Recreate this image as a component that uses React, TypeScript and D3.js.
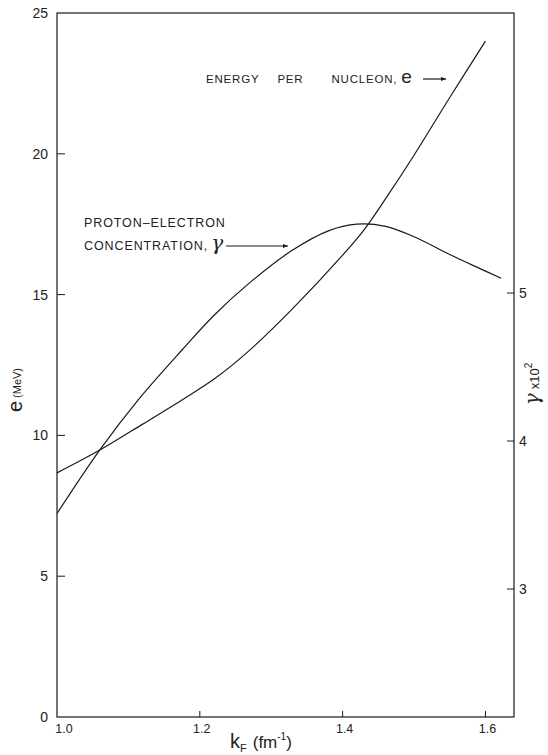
import React from "react";
import * as d3 from "d3";

const energyK = [1.0, 1.06, 1.12, 1.175, 1.22, 1.27, 1.33, 1.4, 1.43, 1.46, 1.5, 1.55, 1.6];
const energyE = [8.67, 9.48, 10.4, 11.26, 12.0, 13.03, 14.5, 16.4, 17.3, 18.4, 19.95, 22.0, 24.0];

const gammaK = [1.0, 1.06, 1.114, 1.175, 1.22, 1.27, 1.33, 1.38, 1.42, 1.46, 1.5, 1.55, 1.59, 1.622];
const gammaV = [3.51, 3.94, 4.28, 4.615, 4.85, 5.07, 5.29, 5.42, 5.465, 5.45, 5.38, 5.26, 5.17, 5.1];

const xTicks = [1.2, 1.4, 1.6];
const xTickLabels = ["1.2", "1.4", "1.6"];
const leftTicks = [0, 5, 10, 15, 20, 25];
const rightTicks = [3, 4, 5];

const W = 548;
const H = 755;
const L = 57, R = 514, T = 13, B = 717;
const FONT = "'Liberation Sans', Arial, Helvetica, sans-serif";

export default function App() {
  const x = d3.scaleLinear().domain([1.0, 1.64]).range([L, R]);
  const yL = d3.scaleLinear().domain([0, 25]).range([B, T]);
  const yR = d3.scaleLinear().domain([3, 5]).range([589, 293]);

  const eLine = d3
    .line<number>()
    .x((_, i) => x(energyK[i]))
    .y((d) => yL(d))
    .curve(d3.curveCatmullRom.alpha(0.5));
  const gLine = d3
    .line<number>()
    .x((_, i) => x(gammaK[i]))
    .y((d) => yR(d))
    .curve(d3.curveCatmullRom.alpha(0.5));

  const stroke = "#1a1a1a";

  return (
    <svg
      width={W}
      height={H}
      style={{ position: "absolute", left: 0, top: 0, background: "#fff" }}
      fontFamily={FONT}
    >
      <defs>
        <marker id="ah" viewBox="0 0 10 10" refX="10" refY="5" markerWidth="8" markerHeight="5" orient="auto" markerUnits="userSpaceOnUse">
          <path d="M0,1 L10,5 L0,9 Z" fill={stroke} />
        </marker>
      </defs>
      {/* frame */}
      <rect x={L} y={T} width={R - L} height={B - T} fill="none" stroke={stroke} strokeWidth={1.2} />

      {/* bottom ticks */}
      {xTicks.map((t, i) => (
        <g key={"xt" + i}>
          <line x1={x(t)} x2={x(t)} y1={B} y2={B - 6} stroke={stroke} strokeWidth={1} />
          <text x={x(t) + 2} y={733} fontSize={12.5} textAnchor="middle" fill="#222">
            {xTickLabels[i]}
          </text>
        </g>
      ))}
      <text x={x(1.0) + 7} y={733} fontSize={12.5} textAnchor="middle" fill="#222">1.0</text>

      {/* left ticks */}
      {leftTicks.map((t) => (
        <g key={"lt" + t}>
          {t > 0 && t < 25 && (
            <line x1={L} x2={L + 8} y1={yL(t)} y2={yL(t)} stroke={stroke} strokeWidth={1} />
          )}
          <text x={L - 9} y={yL(t) + 5} fontSize={14} textAnchor="end" fill="#222">
            {t}
          </text>
        </g>
      ))}

      {/* right ticks */}
      {rightTicks.map((t) => (
        <g key={"rt" + t}>
          <line x1={R - 7} x2={R} y1={yR(t)} y2={yR(t)} stroke={stroke} strokeWidth={1} />
          <text x={R + 5} y={yR(t) + 5} fontSize={14} textAnchor="start" fill="#222">
            {t}
          </text>
        </g>
      ))}

      {/* curves */}
      <path d={eLine(energyE) || ""} fill="none" stroke={stroke} strokeWidth={1.2} />
      <path d={gLine(gammaV) || ""} fill="none" stroke={stroke} strokeWidth={1.2} />

      {/* left axis label */}
      <text transform={`translate(22,390) rotate(-90)`} textAnchor="middle" fill="#222">
        <tspan fontSize={20}>e</tspan>
        <tspan fontSize={11} dx={3} dy={-1}>(MeV)</tspan>
      </text>

      {/* right axis label */}
      <text transform={`translate(539,384) rotate(-90)`} textAnchor="middle" fill="#222">
        <tspan fontSize={20} fontFamily="'DejaVu Serif', serif" fontStyle="italic">γ</tspan>
        <tspan fontSize={13} dx={4}>x10</tspan>
        <tspan fontSize={10} dy={-7}>2</tspan>
      </text>

      {/* x axis label */}
      <text x={230} y={748} fill="#222">
        <tspan fontSize={20}>k</tspan>
        <tspan fontSize={11} dy={4}>F</tspan>
        <tspan fontSize={17} dx={6} dy={-4}>(fm</tspan>
        <tspan fontSize={10} dy={-8}>-1</tspan>
        <tspan fontSize={17} dy={8}>)</tspan>
      </text>

      {/* energy annotation */}
      <text x={206} y={83} fontSize={11.5} fill="#222" letterSpacing={0.8}>
        ENERGY
        <tspan dx={18}>PER</tspan>
        <tspan dx={28}>NUCLEON,</tspan>
        <tspan dx={4} fontSize={19}>e</tspan>
      </text>
      <line x1={423} x2={446} y1={79} y2={79} stroke={stroke} strokeWidth={1.2} markerEnd="url(#ah)" />

      {/* gamma annotation */}
      <text x={84} y={227} fontSize={12.5} fill="#222" letterSpacing={0.9}>
        PROTON–ELECTRON
      </text>
      <text x={84} y={250} fontSize={12.5} fill="#222" letterSpacing={0.9}>
        CONCENTRATION,
        <tspan dx={3} fontSize={20} fontFamily="'DejaVu Serif', serif" fontStyle="italic">γ</tspan>
      </text>
      <line x1={226} x2={288} y1={246} y2={246} stroke={stroke} strokeWidth={1.1} markerEnd="url(#ah)" />
    </svg>
  );
}
